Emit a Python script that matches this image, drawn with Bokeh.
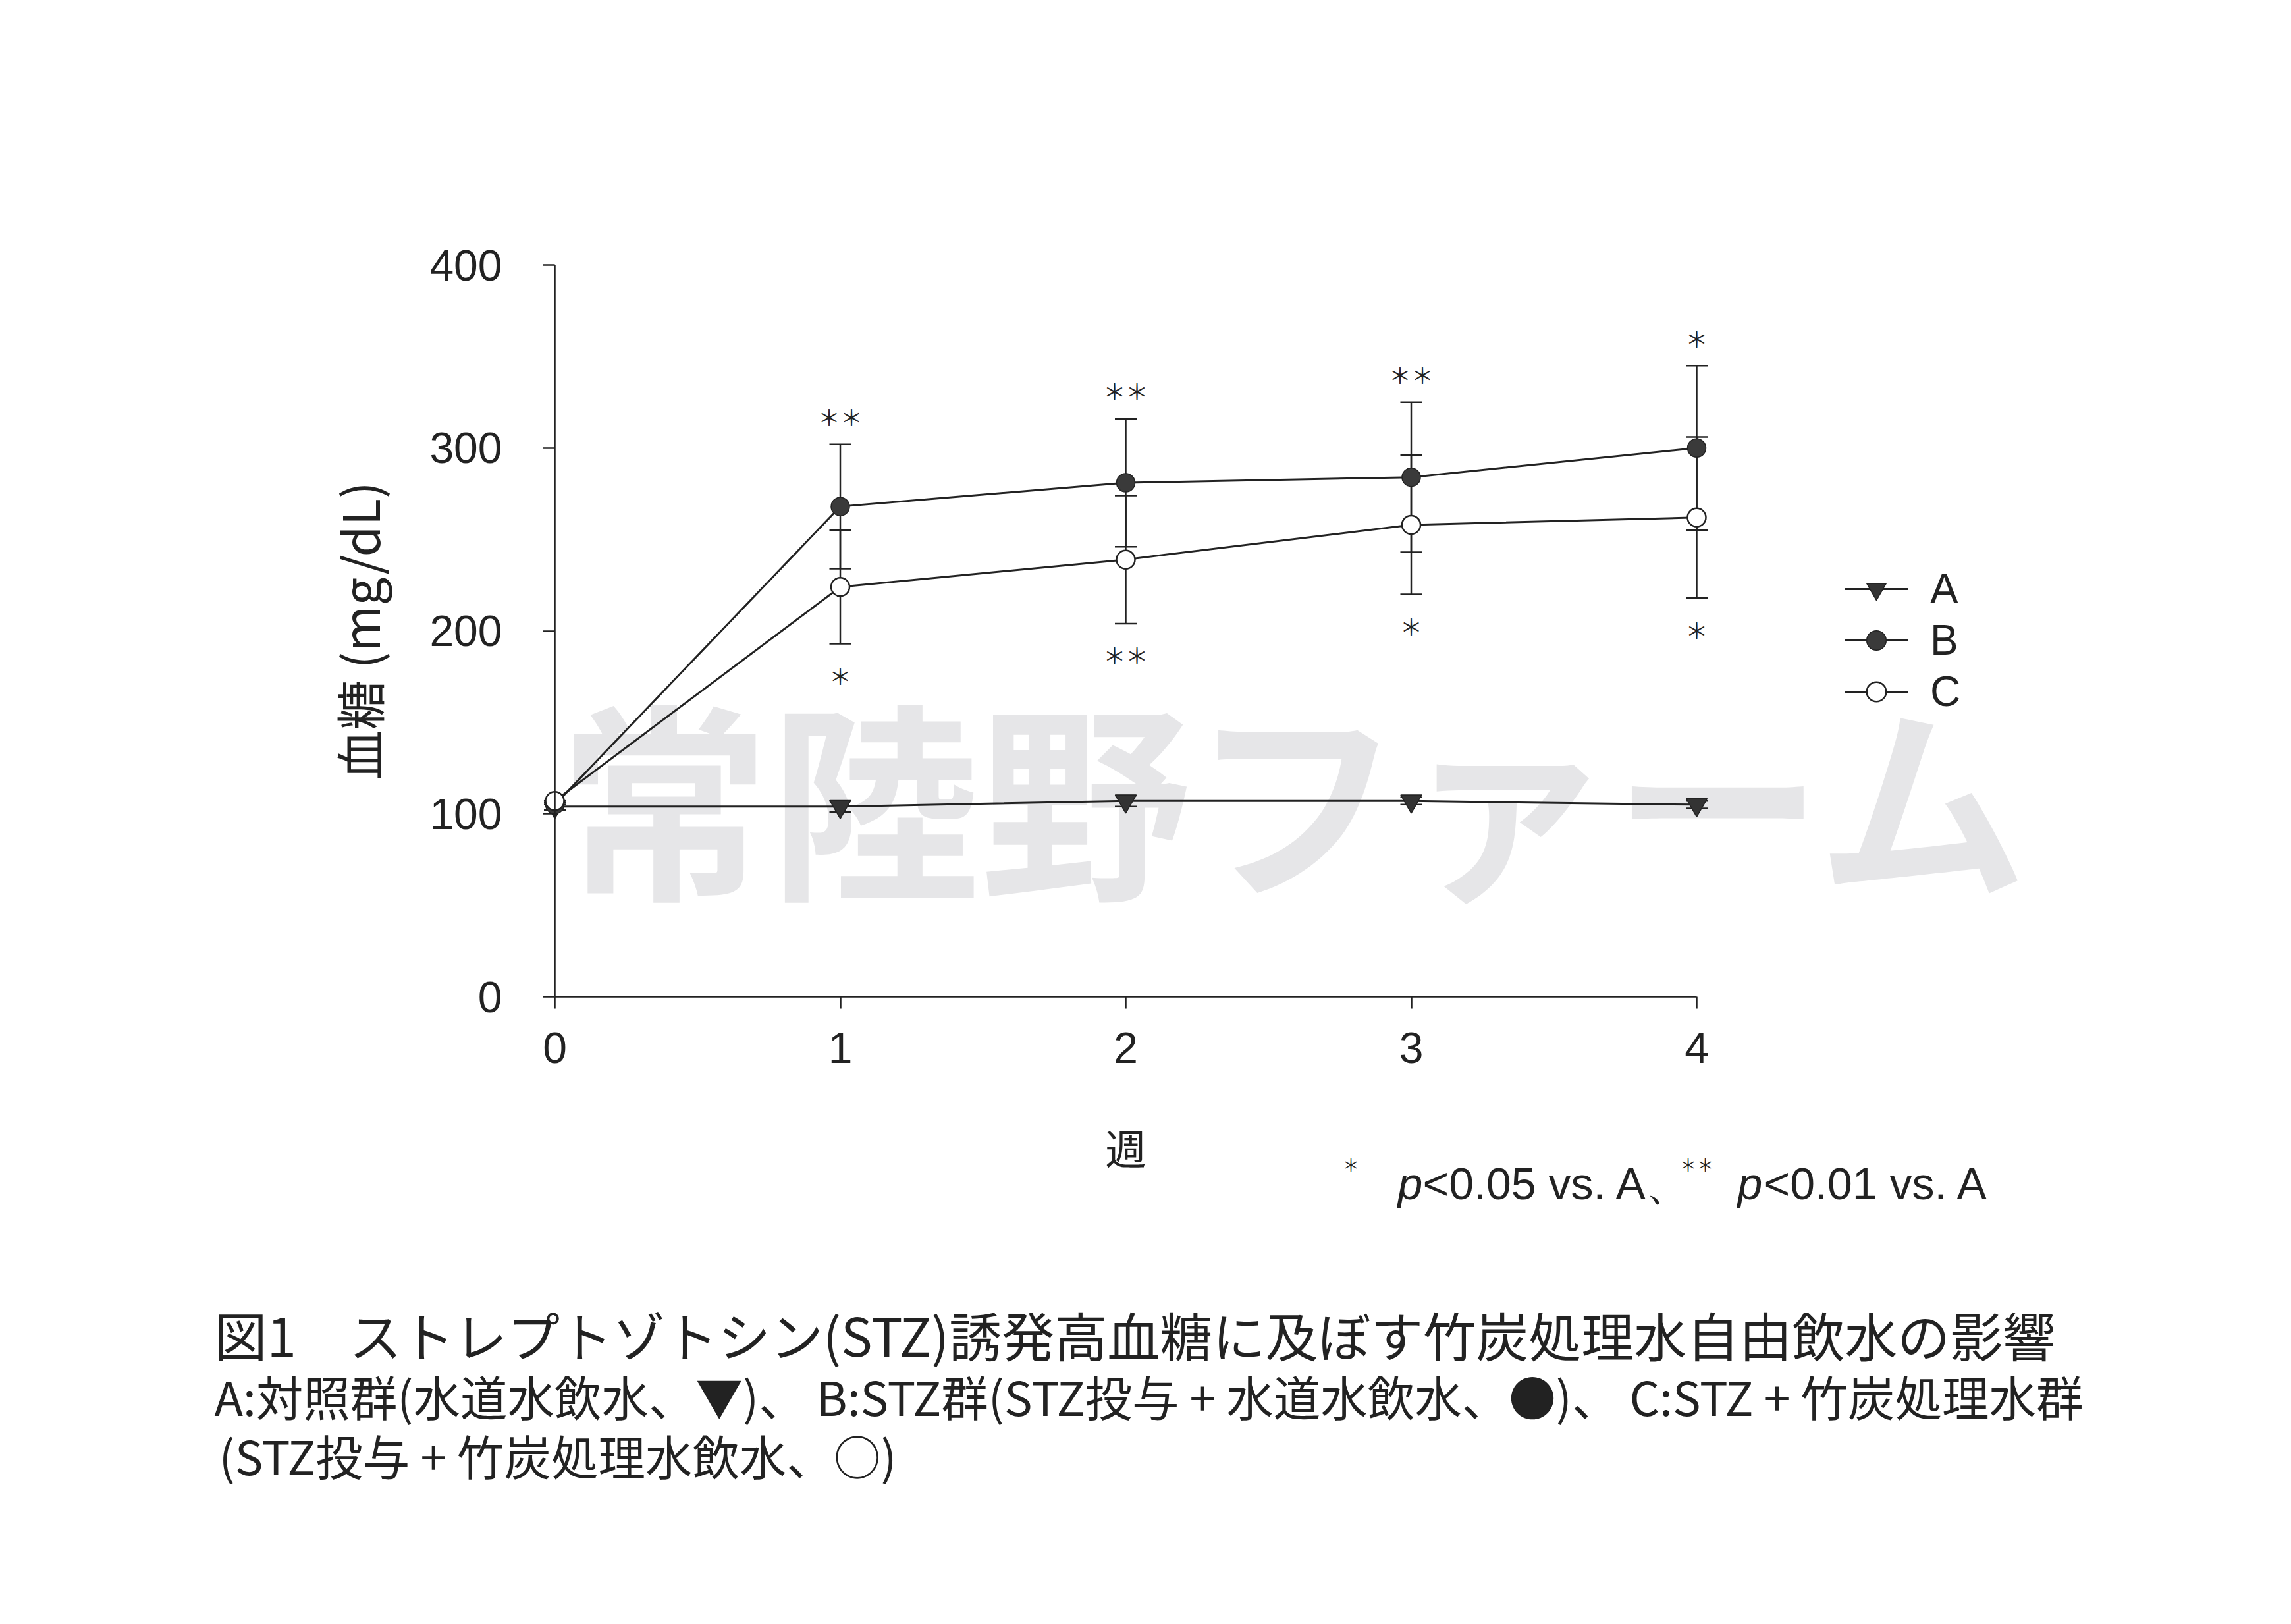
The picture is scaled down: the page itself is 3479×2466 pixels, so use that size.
from bokeh.plotting import figure
from bokeh.models import (ColumnDataSource, Range1d, FixedTicker, Whisker, TeeHead,
                          Label, Legend, LegendItem)
from bokeh.core.properties import value
from bokeh.embed import file_html
from bokeh.resources import INLINE

# ---------------- data ----------------
weeks = [0, 1, 2, 3, 4]
x_ticks = [0, 1, 2, 3, 4]
y_ticks = [0, 100, 200, 300, 400]
group_names = ["A", "B", "C"]
group_a = [104, 104, 107, 107, 105]
group_a_sd = [2, 3, 3, 2, 2]
group_b = [105, 268, 281, 284, 300]
group_b_sd = [0, 34, 35, 41, 45]
group_c = [107, 224, 239, 258, 262]
group_c_sd = [0, 31, 35, 38, 44]
sig_b = ["", "＊＊", "＊＊", "＊＊", "＊"]
sig_c = ["", "＊", "＊＊", "＊", "＊"]

x_label = "週"
y_label = "血糖 (mg/dL)"
watermark = "常陸野ファーム"
caption1 = "図1　ストレプトゾトシン(STZ)誘発高血糖に及ぼす竹炭処理水自由飲水の影響"
caption2 = "A:対照群(水道水飲水、▼)、 B:STZ群(STZ投与 + 水道水飲水、●)、 C:STZ + 竹炭処理水群"
caption3 = "(STZ投与 + 竹炭処理水飲水、○)"

INK = "#222222"
JP = "Noto Sans CJK JP"
LAT = "Liberation Sans"

def src(mean, sd, sig=None):
    d = dict(x=weeks, y=mean,
             upper=[m + s for m, s in zip(mean, sd)],
             lower=[m - s for m, s in zip(mean, sd)])
    if sig is not None:
        d["sig"] = sig
    return ColumnDataSource(d)

sa = src(group_a, group_a_sd)
sb = src(group_b, group_b_sd, sig_b)
sc = src(group_c, group_c_sd, sig_c)

# ---------------- layout (page pixels) ----------------
W, H = 3463, 2450
PAGE0 = 8                       # page margin
X0_PX, PX_PER_X = 850, 433.5    # page x of week 0, pixels per week
Y0_PX, PX_PER_Y = 1521, 2.7775  # page y of 0 mg/dL, pixels per mg/dL
xr = Range1d((PAGE0 - X0_PX) / PX_PER_X, (PAGE0 + W - X0_PX) / PX_PER_X)
yr = Range1d((Y0_PX - (PAGE0 + H)) / PX_PER_Y, (Y0_PX - PAGE0) / PX_PER_Y)

p = figure(width=W, height=H, x_range=xr, y_range=yr,
           output_backend="svg", toolbar_location=None,
           min_border_left=0, min_border_right=0, min_border_top=0, min_border_bottom=0)
p.outline_line_color = None
p.grid.visible = False
p.background_fill_color = "white"
p.border_fill_color = "white"

def sx(px):
    return px - PAGE0
def sy(py):
    return PAGE0 + H - py

# watermark (underlay)
p.add_layout(Label(x=sx(856), y=sy(1210), x_units="screen", y_units="screen", text=watermark,
                   text_font=JP, text_font_style="bold", text_font_size="320px",
                   text_color="#e6e6e8", text_baseline="middle", text_align="left",
                   level="underlay"))

# axes (fixed at the data origin)
for ax in (p.xaxis, p.yaxis):
    ax.fixed_location = 0
    ax.axis_line_color = INK
    ax.axis_line_width = 2.5
    ax.major_tick_line_color = INK
    ax.major_tick_line_width = 2.5
    ax.major_tick_out = 18
    ax.major_tick_in = 0
    ax.minor_tick_line_color = None
    ax.major_label_text_font = LAT
    ax.major_label_text_font_size = "66px"
    ax.major_label_text_color = INK
    ax.axis_label_text_font = JP
    ax.axis_label_text_font_style = "normal"
    ax.axis_label_text_color = INK

p.xaxis.ticker = FixedTicker(ticks=x_ticks)
p.xaxis.bounds = (x_ticks[0], x_ticks[-1])
p.xaxis.major_label_standoff = 36
p.xaxis.axis_label = x_label
p.xaxis.axis_label_text_font_size = "62px"
p.xaxis.axis_label_standoff = 80

p.yaxis.ticker = FixedTicker(ticks=y_ticks)
p.yaxis.bounds = (y_ticks[0], y_ticks[-1])
p.yaxis.major_label_standoff = 62
p.yaxis.axis_label = y_label
p.yaxis.axis_label_text_font_size = "76px"
p.yaxis.axis_label_standoff = 50

# error bars (under markers)
for s in (sa, sb, sc):
    p.add_layout(Whisker(source=s, base="x", upper="upper", lower="lower",
                         line_color=INK, line_width=2.5, level="underlay",
                         upper_head=TeeHead(size=33, line_color=INK, line_width=2.5),
                         lower_head=TeeHead(size=33, line_color=INK, line_width=2.5)))

# lines + markers
la = p.line("x", "y", source=sa, line_color=INK, line_width=3)
lb = p.line("x", "y", source=sb, line_color=INK, line_width=3)
lc = p.line("x", "y", source=sc, line_color=INK, line_width=3)
ma = p.scatter("x", "y", source=sa, marker="inverted_triangle", size=32,
               fill_color="#333333", line_color=INK, line_width=1.5)
mb = p.scatter("x", "y", source=sb, marker="circle", size=28,
               fill_color="#3a3a3a", line_color=INK, line_width=1.5)
mc = p.scatter("x", "y", source=sc, marker="circle", size=28,
               fill_color="white", line_color=INK, line_width=2.5)

# significance marks
p.text("x", "upper", text="sig", source=sb, text_font=value(JP), text_font_size="34px",
       text_color=INK, text_align="center", text_baseline="middle", y_offset=-42)
p.text("x", "lower", text="sig", source=sc, text_font=value(JP), text_font_size="34px",
       text_color=INK, text_align="center", text_baseline="middle", y_offset=48)

# legend
legend = Legend(items=[LegendItem(label=group_names[0], renderers=[la, ma]),
                       LegendItem(label=group_names[1], renderers=[lb, mb]),
                       LegendItem(label=group_names[2], renderers=[lc, mc])],
                location=(sx(2809), sy(1095)), orientation="vertical",
                glyph_width=96, glyph_height=74, label_height=74, spacing=4,
                label_standoff=34, padding=0, margin=0,
                border_line_color=None, background_fill_alpha=0,
                label_text_font=LAT, label_text_font_size="64px", label_text_color=INK)
p.add_layout(legend)

def lab(px, py, text, font, size, style="normal", baseline="middle"):
    p.add_layout(Label(x=sx(px), y=sy(py), x_units="screen", y_units="screen", text=text,
                       text_font=font, text_font_size=size, text_font_style=style,
                       text_color=INK, text_baseline=baseline, text_align="left"))

# significance note
lab(2046, 1775, "＊", JP, "26px")
lab(2130, 1804, "p", LAT, "68px", "italic", "alphabetic")
lab(2168, 1804, "<0.05 vs. A、", LAT, "68px", "normal", "alphabetic")
lab(2558, 1775, "＊＊", JP, "26px")
lab(2646, 1804, "p", LAT, "68px", "italic", "alphabetic")
lab(2686, 1804, "<0.01 vs. A", LAT, "68px", "normal", "alphabetic")

# caption
lab(333, 2032, caption1, JP, "80px")
lab(333, 2126, caption2, JP, "71.5px")
lab(340, 2216, caption3, JP, "71.5px")

open("out.html", "w").write(file_html(p, INLINE))
